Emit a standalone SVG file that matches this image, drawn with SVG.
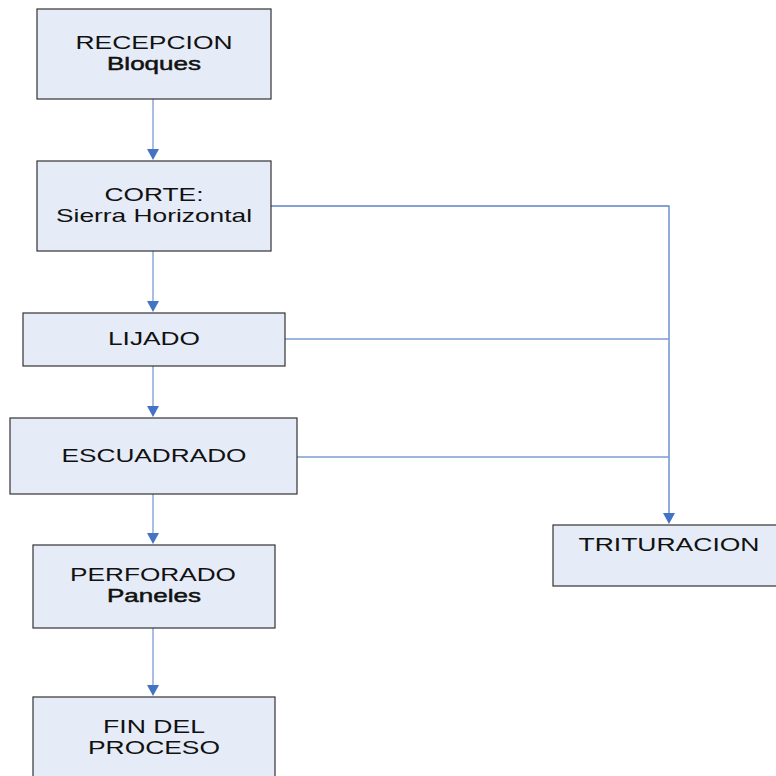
<svg xmlns="http://www.w3.org/2000/svg" width="776" height="776" viewBox="0 0 776 776">
<defs>
<style>
.box{fill:#E6ECF7;stroke:#333333;stroke-width:1.2}
.t{font-family:"Liberation Sans",Arial,sans-serif;font-size:19px;fill:#111111}
.b{stroke:#111111;stroke-width:0.5}
.ln{fill:none;stroke:#7B9BD3;stroke-width:1.3}
.ah{fill:#4472C4}
</style>
</defs>
<rect width="776" height="776" fill="#ffffff"/>
<g id="connectors">
<line class="ln" x1="153" y1="99" x2="153" y2="150"/>
<polygon class="ah" points="147,149 159,149 153,160"/>
<line class="ln" x1="153" y1="251" x2="153" y2="302"/>
<polygon class="ah" points="147,301 159,301 153,312"/>
<line class="ln" x1="153" y1="366" x2="153" y2="407"/>
<polygon class="ah" points="147,406 159,406 153,417"/>
<line class="ln" x1="153" y1="494" x2="153" y2="534"/>
<polygon class="ah" points="147,533 159,533 153,544"/>
<line class="ln" x1="153" y1="628" x2="153" y2="686"/>
<polygon class="ah" points="147,685 159,685 153,696"/>
<polyline class="ln" points="271,206 669,206 669,514" style="stroke:#5A82C8"/>
<line class="ln" x1="285" y1="339" x2="669" y2="339"/>
<line class="ln" x1="297" y1="457" x2="669" y2="457"/>
<polygon class="ah" points="663,513 675,513 669,524"/>
</g>
<g id="recepcion">
<rect class="box" x="37" y="9" width="234" height="90"/>
<text class="t" x="154" y="49" text-anchor="middle" textLength="157" lengthAdjust="spacingAndGlyphs">RECEPCION</text>
<text class="t b" x="154" y="70" text-anchor="middle" textLength="94" lengthAdjust="spacingAndGlyphs">Bloques</text>
</g>
<g id="corte">
<rect class="box" x="37" y="161" width="234" height="90"/>
<text class="t" x="154" y="201" text-anchor="middle" textLength="99" lengthAdjust="spacingAndGlyphs">CORTE:</text>
<text class="t" x="154" y="222" text-anchor="middle" textLength="196" lengthAdjust="spacingAndGlyphs">Sierra Horizontal</text>
</g>
<g id="lijado">
<rect class="box" x="23" y="313" width="262" height="53"/>
<text class="t" x="154" y="345" text-anchor="middle" textLength="92" lengthAdjust="spacingAndGlyphs">LIJADO</text>
</g>
<g id="escuadrado">
<rect class="box" x="10" y="418" width="287" height="76"/>
<text class="t" x="154" y="462" text-anchor="middle" textLength="185" lengthAdjust="spacingAndGlyphs">ESCUADRADO</text>
</g>
<g id="perforado">
<rect class="box" x="33" y="545" width="242" height="83"/>
<text class="t" x="153" y="581" text-anchor="middle" textLength="166" lengthAdjust="spacingAndGlyphs">PERFORADO</text>
<text class="t b" x="154" y="602" text-anchor="middle" textLength="94" lengthAdjust="spacingAndGlyphs">Paneles</text>
</g>
<g id="fin">
<rect class="box" x="33" y="697" width="242" height="90"/>
<text class="t" x="154" y="733" text-anchor="middle" textLength="102" lengthAdjust="spacingAndGlyphs">FIN DEL</text>
<text class="t" x="154" y="754" text-anchor="middle" textLength="132" lengthAdjust="spacingAndGlyphs">PROCESO</text>
</g>
<g id="trituracion">
<rect class="box" x="553" y="525" width="230" height="61"/>
<text class="t" x="669" y="551" text-anchor="middle" textLength="181" lengthAdjust="spacingAndGlyphs">TRITURACION</text>
</g>
</svg>
